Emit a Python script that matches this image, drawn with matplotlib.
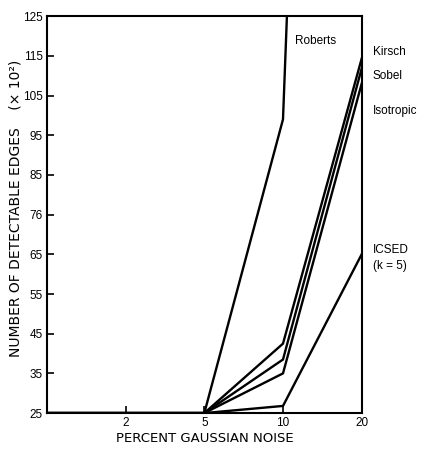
import numpy as np
import matplotlib
matplotlib.use('Agg')
import matplotlib.pyplot as plt

plt.rcParams['font.family'] = ['Liberation Sans', 'DejaVu Sans']

# noise levels (percent), plotted at equal spacing; first point is the left edge
noise = [1, 2, 5, 10, 20]
noise_labels = ['', '2', '5', '10', '20']

roberts = [25, 25, 25, 99, 620]
kirsch = [25, 25, 25, 42.5, 114.3]
sobel = [25, 25, 25, 38.5, 111.8]
isotropic = [25, 25, 25, 35, 108]
icsed = [25, 25, 25, 26.8, 65]

y_ticks = [25, 35, 45, 55, 65, 75, 85, 95, 105, 115, 125]
y_tick_labels = ['25', '35', '45', '55', '65', '76', '85', '95', '105', '115', '125']


def main():
    fig = plt.figure(figsize=(4.27, 4.49), dpi=100)
    ax = fig.add_axes([0.110, 0.080, 0.737, 0.884])
    x = np.arange(len(noise))

    for series in (roberts, kirsch, sobel, isotropic, icsed):
        ax.plot(x, series, color='black', lw=1.7, solid_joinstyle='miter')

    ax.set_xlim(0, 4)
    ax.set_ylim(25, 125)
    ax.set_xticks(x[1:])
    ax.set_xticklabels(noise_labels[1:], fontsize=8.5)
    ax.set_yticks(y_ticks)
    ax.set_yticklabels(y_tick_labels, fontsize=8.5)
    ax.tick_params(direction='in', length=5, width=1.2, color='black', pad=3)
    for spine in ax.spines.values():
        spine.set_linewidth(1.5)

    ax.set_xlabel('PERCENT GAUSSIAN NOISE', fontsize=9.5, family='DejaVu Sans', labelpad=2)
    ax.set_ylabel('NUMBER OF DETECTABLE EDGES    (× 10²)', fontsize=10, family='DejaVu Sans')
    ax.yaxis.set_label_coords(-0.078, 0.516)

    ax.text(3.15, 118.8, 'Roberts', fontsize=8.5, va='center')
    right = dict(fontsize=8.5, va='center', transform=ax.get_yaxis_transform(), clip_on=False)
    ax.text(1.035, 116.0, 'Kirsch', **right)
    ax.text(1.035, 109.8, 'Sobel', **right)
    ax.text(1.035, 101.0, 'Isotropic', **right)
    ax.text(1.035, 66.2, 'ICSED', **right)
    ax.text(1.035, 62.0, '(k = 5)', **right)

    fig.savefig('out.png', dpi=100)


if __name__ == '__main__':
    main()
